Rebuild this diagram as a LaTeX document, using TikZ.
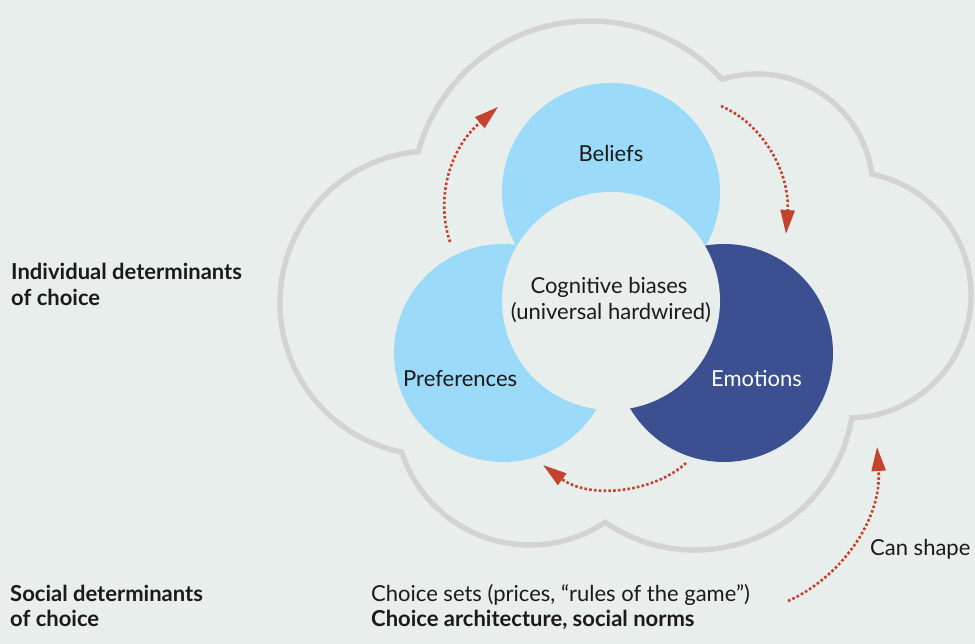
\documentclass[tikz,border=0pt]{standalone}
\usepackage{fontspec}
\setmainfont{Lato}
\usetikzlibrary{arrows.meta}
\definecolor{bg}{HTML}{E8EEEB}
\definecolor{cloudgray}{HTML}{D3D3D3}
\definecolor{lblue}{HTML}{9BDAF9}
\definecolor{dblue}{HTML}{3B4F91}
\definecolor{arrred}{HTML}{C4432F}
\definecolor{ink}{HTML}{1A1A1A}
\begin{document}
\begin{tikzpicture}[x=1pt,y=-1pt,
  lbl/.style={font=\fontsize{22}{26}\selectfont, text=ink, inner sep=0pt},
  boldlbl/.style={lbl, font=\fontsize{22}{26}\selectfont\bfseries},
  flow/.style={draw=arrred, line width=2.6pt, dash pattern=on 2.6pt off 2.2pt,
    -{Triangle[length=24pt,width=14pt]}},
  cloudline/.style={draw=cloudgray, line width=11pt},
]
\fill[bg] (0,0) rectangle (975,644);
\useasboundingbox (0,0) rectangle (975,644);
% cloud outline: union of circles
\foreach \cx/\cy/\r in {432/303/152, 590/199/178, 757/190/116, 848/295/123, 695/391/159, 530/410/135}
  \draw[cloudline] (\cx,\cy) circle[radius=\r-2.75];
\foreach \cx/\cy/\r in {432/303/152, 590/199/178, 757/190/116, 848/295/123, 695/391/159, 530/410/135}
  \fill[bg] (\cx,\cy) circle[radius=\r-2.75];
% three determinant circles and centre
\fill[lblue] (611,192) circle[radius=109];
\fill[lblue] (503,353) circle[radius=109];
\fill[dblue] (724,353) circle[radius=109];
\fill[bg] (611,301) circle[radius=109];
% arrow end points
\coordinate (a1s) at (450,242); \coordinate (a1e) at (498,107);
\coordinate (a2s) at (721,106); \coordinate (a2e) at (786,234);
\coordinate (a3s) at (686,463); \coordinate (a3e) at (543,465);
\coordinate (a4s) at (788,601); \coordinate (a4e) at (877,447);
\draw[flow] (a1s) .. controls (436,200) and (448,150) .. (a1e);
\draw[flow] (a2s) .. controls (765,125) and (790,175) .. (a2e);
\draw[flow] (a3s) .. controls (655,492) and (590,500) .. (a3e);
\draw[flow] (a4s) .. controls (840,578) and (882,520) .. (a4e);
% texts
\node[lbl, anchor=base] (beliefs) at (611,162) {Beliefs};
\node[lbl, anchor=base] (cog1) at (609,294) {Cognitive biases};
\node[lbl, anchor=base] (cog2) at (611,320) {(universal hardwired)};
\node[lbl, anchor=base west] (pref) at (403,387) {Preferences};
\node[lbl, anchor=base west, text=white] (emo) at (711,387) {Emotions};
\node[lbl, anchor=base west] (can) at (870,555) {Can shape};
\node[boldlbl, anchor=base west] (ind1) at (11,280) {Individual determinants};
\node[boldlbl, anchor=base west] (ind2) at (11,306) {of choice};
\node[boldlbl, anchor=base west] (soc1) at (10,601) {Social determinants};
\node[boldlbl, anchor=base west] (soc2) at (10,626) {of choice};
\node[lbl, anchor=base west] (cs1) at (371,601) {Choice sets (prices, “rules of the game”)};
\node[boldlbl, anchor=base west] (cs2) at (371,626) {Choice architecture, social norms};
\end{tikzpicture}
\end{document}
